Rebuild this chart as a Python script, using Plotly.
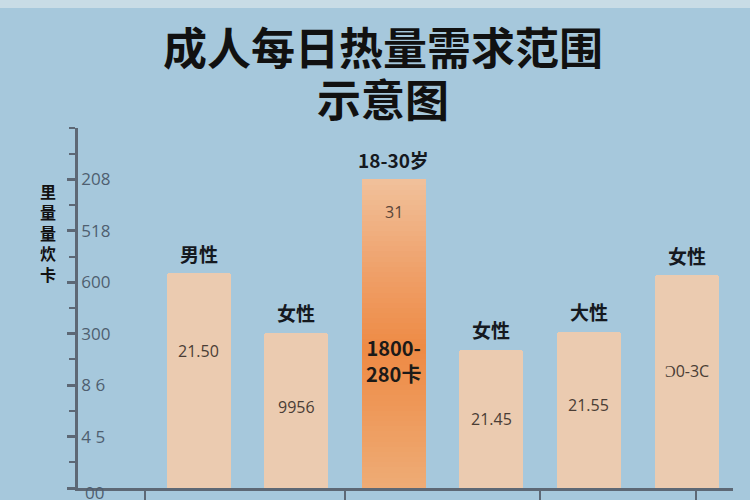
import plotly.graph_objects as go

# ---- data ----
top_labels = ["男性", "女性", "18-30岁", "女性", "大性", "女性"]
values = [4.18, 3.02, 6.0, 2.69, 3.04, 4.14]
inner_labels = ["21.50", "9956", None, "21.45", "21.55", "Ͻ0-3C"]
inner_label_y = [2.67, 1.57, None, 1.35, 1.61, 2.28]
highlight_idx = 2
highlight_top_text = "31"
highlight_top_y = 5.36
highlight_main_text = "<b>1800-<br>280卡</b>"
highlight_main_y = 2.48
ytick_vals = [0, 1, 2, 3, 4, 5, 6]
ytick_text = ["00", "4 5", "8 6", "300", "600", "518", "208"]
y_title = "里<br>量<br>量<br>炊<br>卡"
title_line1 = "成人每日热量需求范围"
title_line2 = "示意图"

CJK = "Noto Sans CJK SC"
BG = "#a6c8dc"
PEACH = "#ebcbb0"
AXIS = "#5d6875"
TICKFONT = dict(family="Open Sans", size=17, color="#4f5f70")

xs = list(range(len(values)))

fig = go.Figure()

# regular bars
reg_x = [x for x in xs if x != highlight_idx]
reg_y = [values[x] for x in reg_x]
fig.add_trace(go.Bar(
    x=reg_x, y=reg_y, width=0.655,
    marker=dict(color=PEACH, line=dict(width=0), cornerradius=3),
    hoverinfo="skip", showlegend=False))

# highlighted bar with vertical gradient (stacked slices)
def lerp(c1, c2, t):
    return tuple(round(a + (b - a) * t) for a, b in zip(c1, c2))

stops = [(0.0, (238, 172, 118)), (0.45, (238, 138, 68)), (0.7, (239, 160, 105)), (1.0, (241, 193, 155))]

def grad(t):
    for (t0, c0), (t1, c1) in zip(stops[:-1], stops[1:]):
        if t0 <= t <= t1:
            return lerp(c0, c1, (t - t0) / (t1 - t0))
    return stops[-1][1]

N = 60
hv = values[highlight_idx]
seg_base = [hv * i / N for i in range(N)]
seg_h = [hv / N] * N
seg_col = ["rgb(%d,%d,%d)" % grad((i + 0.5) / N) for i in range(N)]
fig.add_trace(go.Bar(
    x=[highlight_idx] * N, y=seg_h, base=seg_base, width=0.655,
    marker=dict(color=seg_col, line=dict(width=0)),
    hoverinfo="skip", showlegend=False))

annotations = []
# labels above bars
for x, lab, v in zip(xs, top_labels, values):
    annotations.append(dict(x=x, y=v, yshift=20, text="<b>%s</b>" % lab, showarrow=False,
                            xanchor="center", yanchor="middle",
                            font=dict(family=CJK, size=19, color="#15191f")))
# inner labels
for x, lab, ly in zip(xs, inner_labels, inner_label_y):
    if lab is None:
        continue
    annotations.append(dict(x=x, y=ly, text=lab, showarrow=False, xanchor="center", yanchor="middle",
                            font=dict(family="Open Sans", size=16, color="#4a3d35")))
annotations.append(dict(x=highlight_idx, y=highlight_top_y, text=highlight_top_text, showarrow=False,
                        xanchor="center", yanchor="middle",
                        font=dict(family="Open Sans", size=16, color="#5a4538")))
annotations.append(dict(x=highlight_idx, y=highlight_main_y, text=highlight_main_text, showarrow=False,
                        xanchor="center", yanchor="middle",
                        font=dict(family=CJK, size=20, color="#1c1a18")))
# bottom tick label (hidden by plotly at the axis edge), drawn at y = first tick value
annotations.append(dict(xref="paper", yref="y", x=0.0, xshift=5, y=ytick_vals[0], yshift=-4,
                        text=ytick_text[0], showarrow=False, xanchor="left", yanchor="middle",
                        font=TICKFONT))
# title
annotations.append(dict(xref="paper", yref="paper", x=0.465, y=1.228, text="<b>%s</b>" % title_line1,
                        showarrow=False, xanchor="center", yanchor="middle",
                        font=dict(family=CJK, size=44, color="#111111")))
annotations.append(dict(xref="paper", yref="paper", x=0.465, y=1.083, text="<b>%s</b>" % title_line2,
                        showarrow=False, xanchor="center", yanchor="middle",
                        font=dict(family=CJK, size=44, color="#111111")))
# y axis title (vertical stack)
annotations.append(dict(xref="paper", yref="paper", x=-0.046, y=0.711, text="<b>%s</b>" % y_title,
                        showarrow=False, xanchor="center", yanchor="middle",
                        font=dict(family=CJK, size=16, color="#111111")))

fig.update_layout(
    width=750, height=500, autosize=False,
    margin=dict(l=78, r=17, t=128, b=12, pad=0),
    paper_bgcolor=BG, plot_bgcolor=BG,
    barmode="overlay", bargap=0,
    annotations=annotations,
    shapes=[dict(type="rect", xref="paper", yref="paper", x0=-0.2, x1=1.1, y0=1.333, y1=1.4,
                 fillcolor="#c8dce6", line=dict(width=0), layer="below")],
    xaxis=dict(range=[-1.235, 5.476], showgrid=False, zeroline=False, automargin=False,
               showline=True, linecolor=AXIS, linewidth=2.5,
               tickmode="array", tickvals=[-0.55, 1.5, 3.5, 5.1], ticktext=["", "", "", ""],
               ticks="outside", ticklen=14, tickwidth=1.5, tickcolor=AXIS, showticklabels=False,
               fixedrange=True),
    yaxis=dict(range=[0, 7], showgrid=False, zeroline=False, automargin=False,
               showline=True, linecolor=AXIS, linewidth=2.5,
               tickmode="array", tickvals=ytick_vals, ticktext=ytick_text,
               ticks="outside", ticklen=8, tickwidth=3, tickcolor=AXIS,
               ticklabelposition="inside", ticklabelstandoff=4,
               tickfont=TICKFONT,
               minor=dict(dtick=0.5, tick0=0.5, ticks="outside", ticklen=6, tickwidth=1.5, tickcolor=AXIS),
               fixedrange=True),
)

fig.write_html("out.html", config={"displayModeBar": False},
               post_script="document.body.style.margin='0';document.body.style.padding='0';")
